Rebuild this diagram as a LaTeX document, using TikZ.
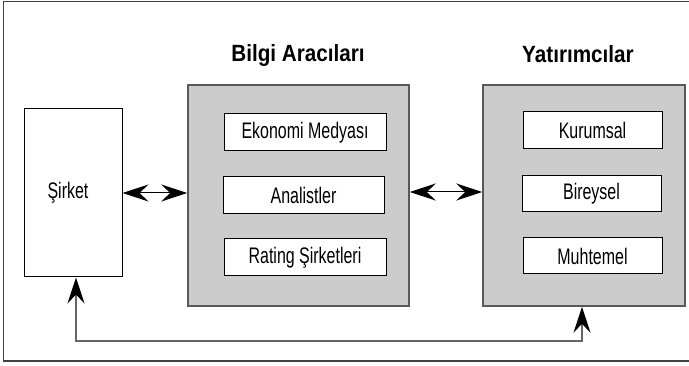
\documentclass[tikz,border=0pt]{standalone}
\usepackage{fontspec}
\setmainfont[FakeStretch=0.71]{Liberation Sans}
\newfontfamily\titlefont[FakeStretch=0.88]{Liberation Sans}
\usetikzlibrary{arrows.meta}
\begin{document}
\begin{tikzpicture}[x=1pt,y=-1pt,
  framebox/.style={draw=black!75, line width=1.5pt},
  grp/.style={draw=black!65, fill=black!20, line width=1.5pt, inner sep=0pt},
  item/.style={draw=black, fill=white, line width=1pt, inner sep=0pt,
    font=\fontsize{22.5}{25}\selectfont},
  ttl/.style={font=\titlefont\bfseries\fontsize{23.5}{26}\selectfont, inner sep=0pt},
  headtip/.style={Stealth[length=26pt,width=17pt,inset=9pt]},
  dbl/.style={{Stealth[length=26pt,width=17pt,inset=9pt]}-{Stealth[length=26pt,width=17pt,inset=9pt]}, line width=1pt, draw=black},
  conn/.style={draw=black!60, line width=1.5pt,
    {Stealth[length=26pt,width=17pt,inset=9pt,color=black]}-{Stealth[length=26pt,width=17pt,inset=9pt,color=black]}}]
\useasboundingbox (0,0) rectangle (689,366);
\fill[white] (0,0) rectangle (689,366);
% outer frame (right side runs past the picture)
\draw[framebox] (689,1.5) -- (3.5,1.5) -- (3.5,361) -- (689,361);

% Sirket
\node[item, minimum width=98pt, minimum height=168pt] (sirket) at (73,193) {Şirket\hspace*{10pt}};

% Bilgi Araclari
\node[grp, minimum width=221pt, minimum height=221pt] (bilgi) at (298.5,195.5) {};
\node[ttl] (tbilgi) at (298,55) {Bilgi Aracıları};
\node[item, minimum width=162pt, minimum height=37pt] (eko) at (305,132.5) {Ekonomi Medyası};
\node[item, minimum width=161pt, minimum height=37pt] (ana) at (303.5,195.5) {Analistler};
\node[item, minimum width=162pt, minimum height=37pt] (rat) at (305,257.5) {Rating Şirketleri};

% Yatirimcilar
\node[grp, minimum width=202pt, minimum height=221pt] (yat) at (584,195.5) {};
\node[ttl] (tyat) at (578,54) {Yatırımcılar};
\node[item, minimum width=139pt, minimum height=37pt] (kur) at (592.5,130.5) {Kurumsal};
\node[item, minimum width=139pt, minimum height=36pt] (bir) at (591.5,194) {Bireysel};
\node[item, minimum width=139pt, minimum height=36pt] (muh) at (592.5,256) {Muhtemel};

% connectors
\coordinate (ay) at (0,192);
\draw[dbl] (sirket.east) -- (sirket.east -| bilgi.west);
\draw[dbl] (bilgi.east |- ay) -- (yat.west |- ay);
\coordinate (b1) at (76,341);
\coordinate (b2) at (582,341);
\draw[conn] (sirket.south -| b1) -- (b1) -- (b2) -- (yat.south -| b2);
\end{tikzpicture}
\end{document}
